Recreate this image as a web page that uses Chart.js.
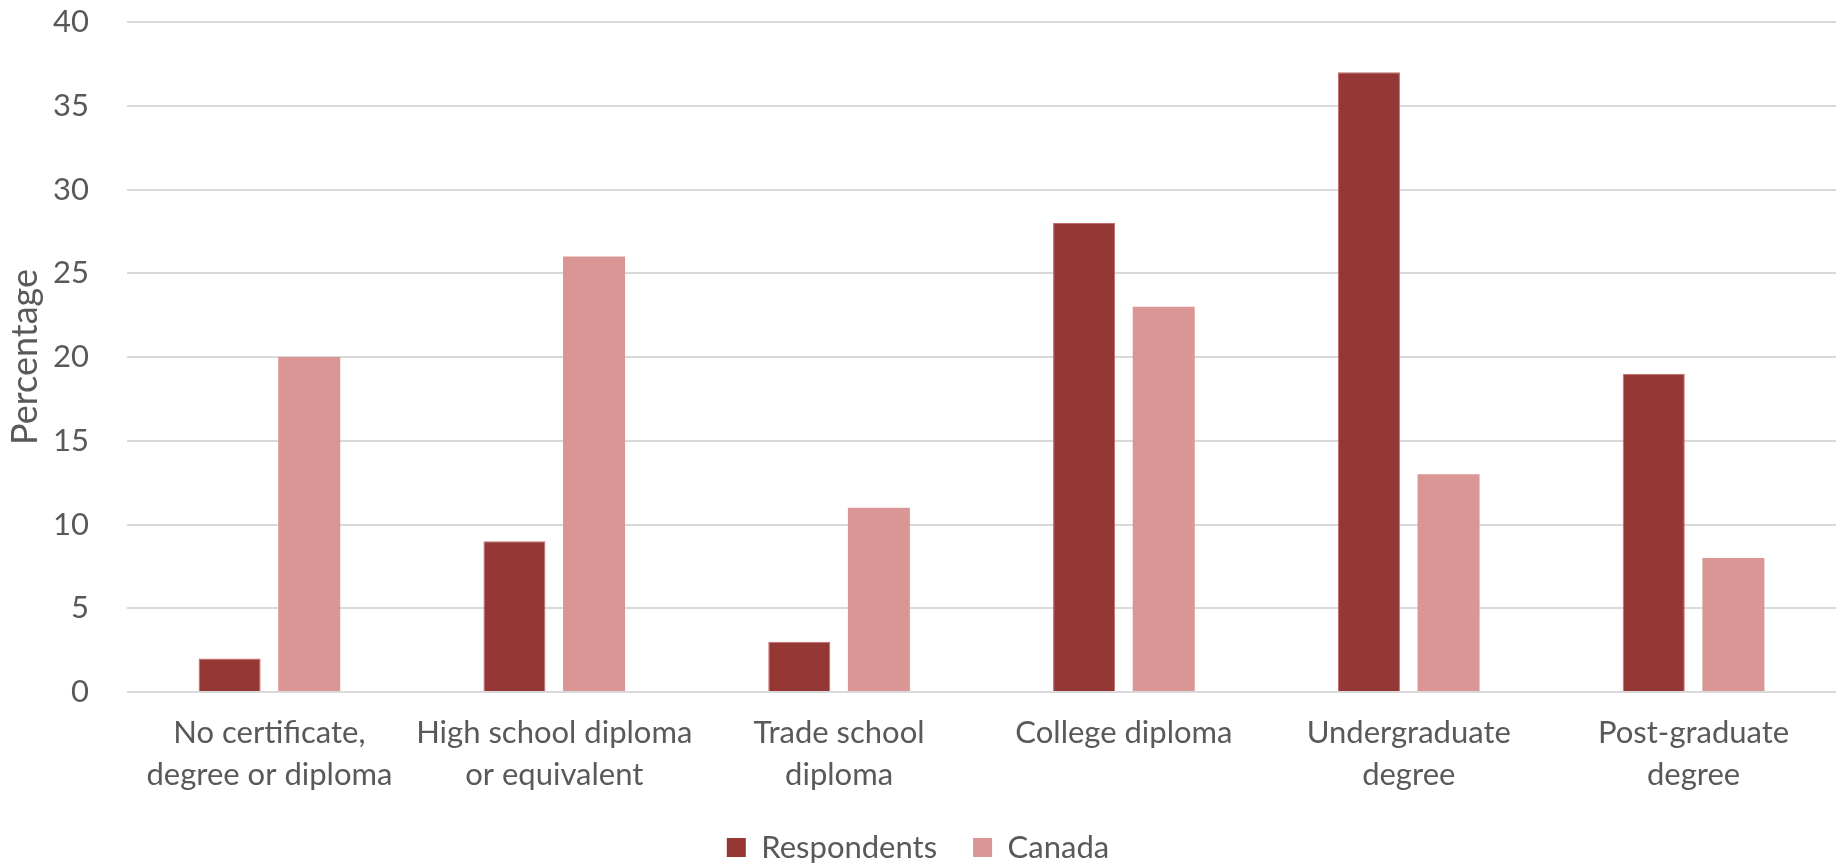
<!DOCTYPE html>
<html><head><meta charset="utf-8">
<script src="https://cdn.jsdelivr.net/npm/chart.js@4"></script>
<style>html,body{margin:0;padding:0;background:#fff}#wrap{width:1841px;height:864px}</style>
</head><body><div id="wrap"><canvas id="c" width="1841" height="864"></canvas></div>
<script>
const categories = [
  ["No certificate,", "degree or diploma"],
  ["High school diploma", "or equivalent"],
  ["Trade school", "diploma"],
  "College diploma",
  ["Undergraduate", "degree"],
  ["Post-graduate", "degree"]
];
const respondents = [2, 9, 3, 28, 37, 19];
const canada = [20, 26, 11, 23, 13, 8];
const yMin = 0, yMax = 40, yStep = 5;
const seriesNames = ["Respondents", "Canada"];
const yTitle = "Percentage";

const FONT = "Lato, 'Open Sans', sans-serif";
const TXT = "#595959";

const chart = new Chart(document.getElementById('c'), {
  type: 'bar',
  data: {
    labels: categories,
    datasets: [
      { label: seriesNames[0], data: respondents, backgroundColor: '#953735',
        borderColor: '#C46A68', borderWidth: 1,
        barPercentage: 0.779, categoryPercentage: 0.559 },
      { label: seriesNames[1], data: canada, backgroundColor: '#D99694',
        barPercentage: 0.779, categoryPercentage: 0.559 }
    ]
  },
  options: {
    responsive: false,
    animation: false,
    devicePixelRatio: 1,
    layout: { padding: { top: 22, right: 5, left: 0, bottom: 0 } },
    plugins: {
      legend: {
        position: 'bottom',
        labels: {
          color: TXT, font: { family: FONT, size: 31 }, boxWidth: 19, boxHeight: 19, padding: 36,
          generateLabels: (c) => Chart.defaults.plugins.legend.labels.generateLabels(c).map(l => Object.assign(l, { lineWidth: 0 }))
        }
      },
      tooltip: { enabled: false },
      title: { display: false }
    },
    scales: {
      x: {
        grid: { display: false, drawTicks: false },
        border: { display: false },
        ticks: { color: TXT, font: { family: FONT, size: 31, lineHeight: 1.36 }, padding: 20, maxRotation: 0, autoSkip: false },
        afterFit: (s) => { s.height = 108; s.paddingLeft = 0; s.paddingRight = 0; }
      },
      y: {
        min: yMin, max: yMax,
        ticks: { stepSize: yStep, color: TXT, font: { family: FONT, size: 31 }, padding: 38 },
        grid: { color: '#D9D9D9', lineWidth: 2, drawTicks: false },
        border: { display: false },
        title: { display: true, text: yTitle, color: TXT, font: { family: FONT, size: 36 }, padding: { top: 4, bottom: 0 } },
        afterFit: (s) => { s.width = 127; s.paddingTop = 0; s.paddingBottom = 0; }
      }
    }
  }
});
const lg = chart.legend;
const origFit = lg.fit.bind(lg);
const origDraw = lg.draw.bind(lg);
lg.fit = function () { origFit(); this.height = 64; };
lg.draw = function () { const t = this.top; this.top = t - 4; origDraw(); this.top = t; };
chart.update();
</script>
</body></html>
